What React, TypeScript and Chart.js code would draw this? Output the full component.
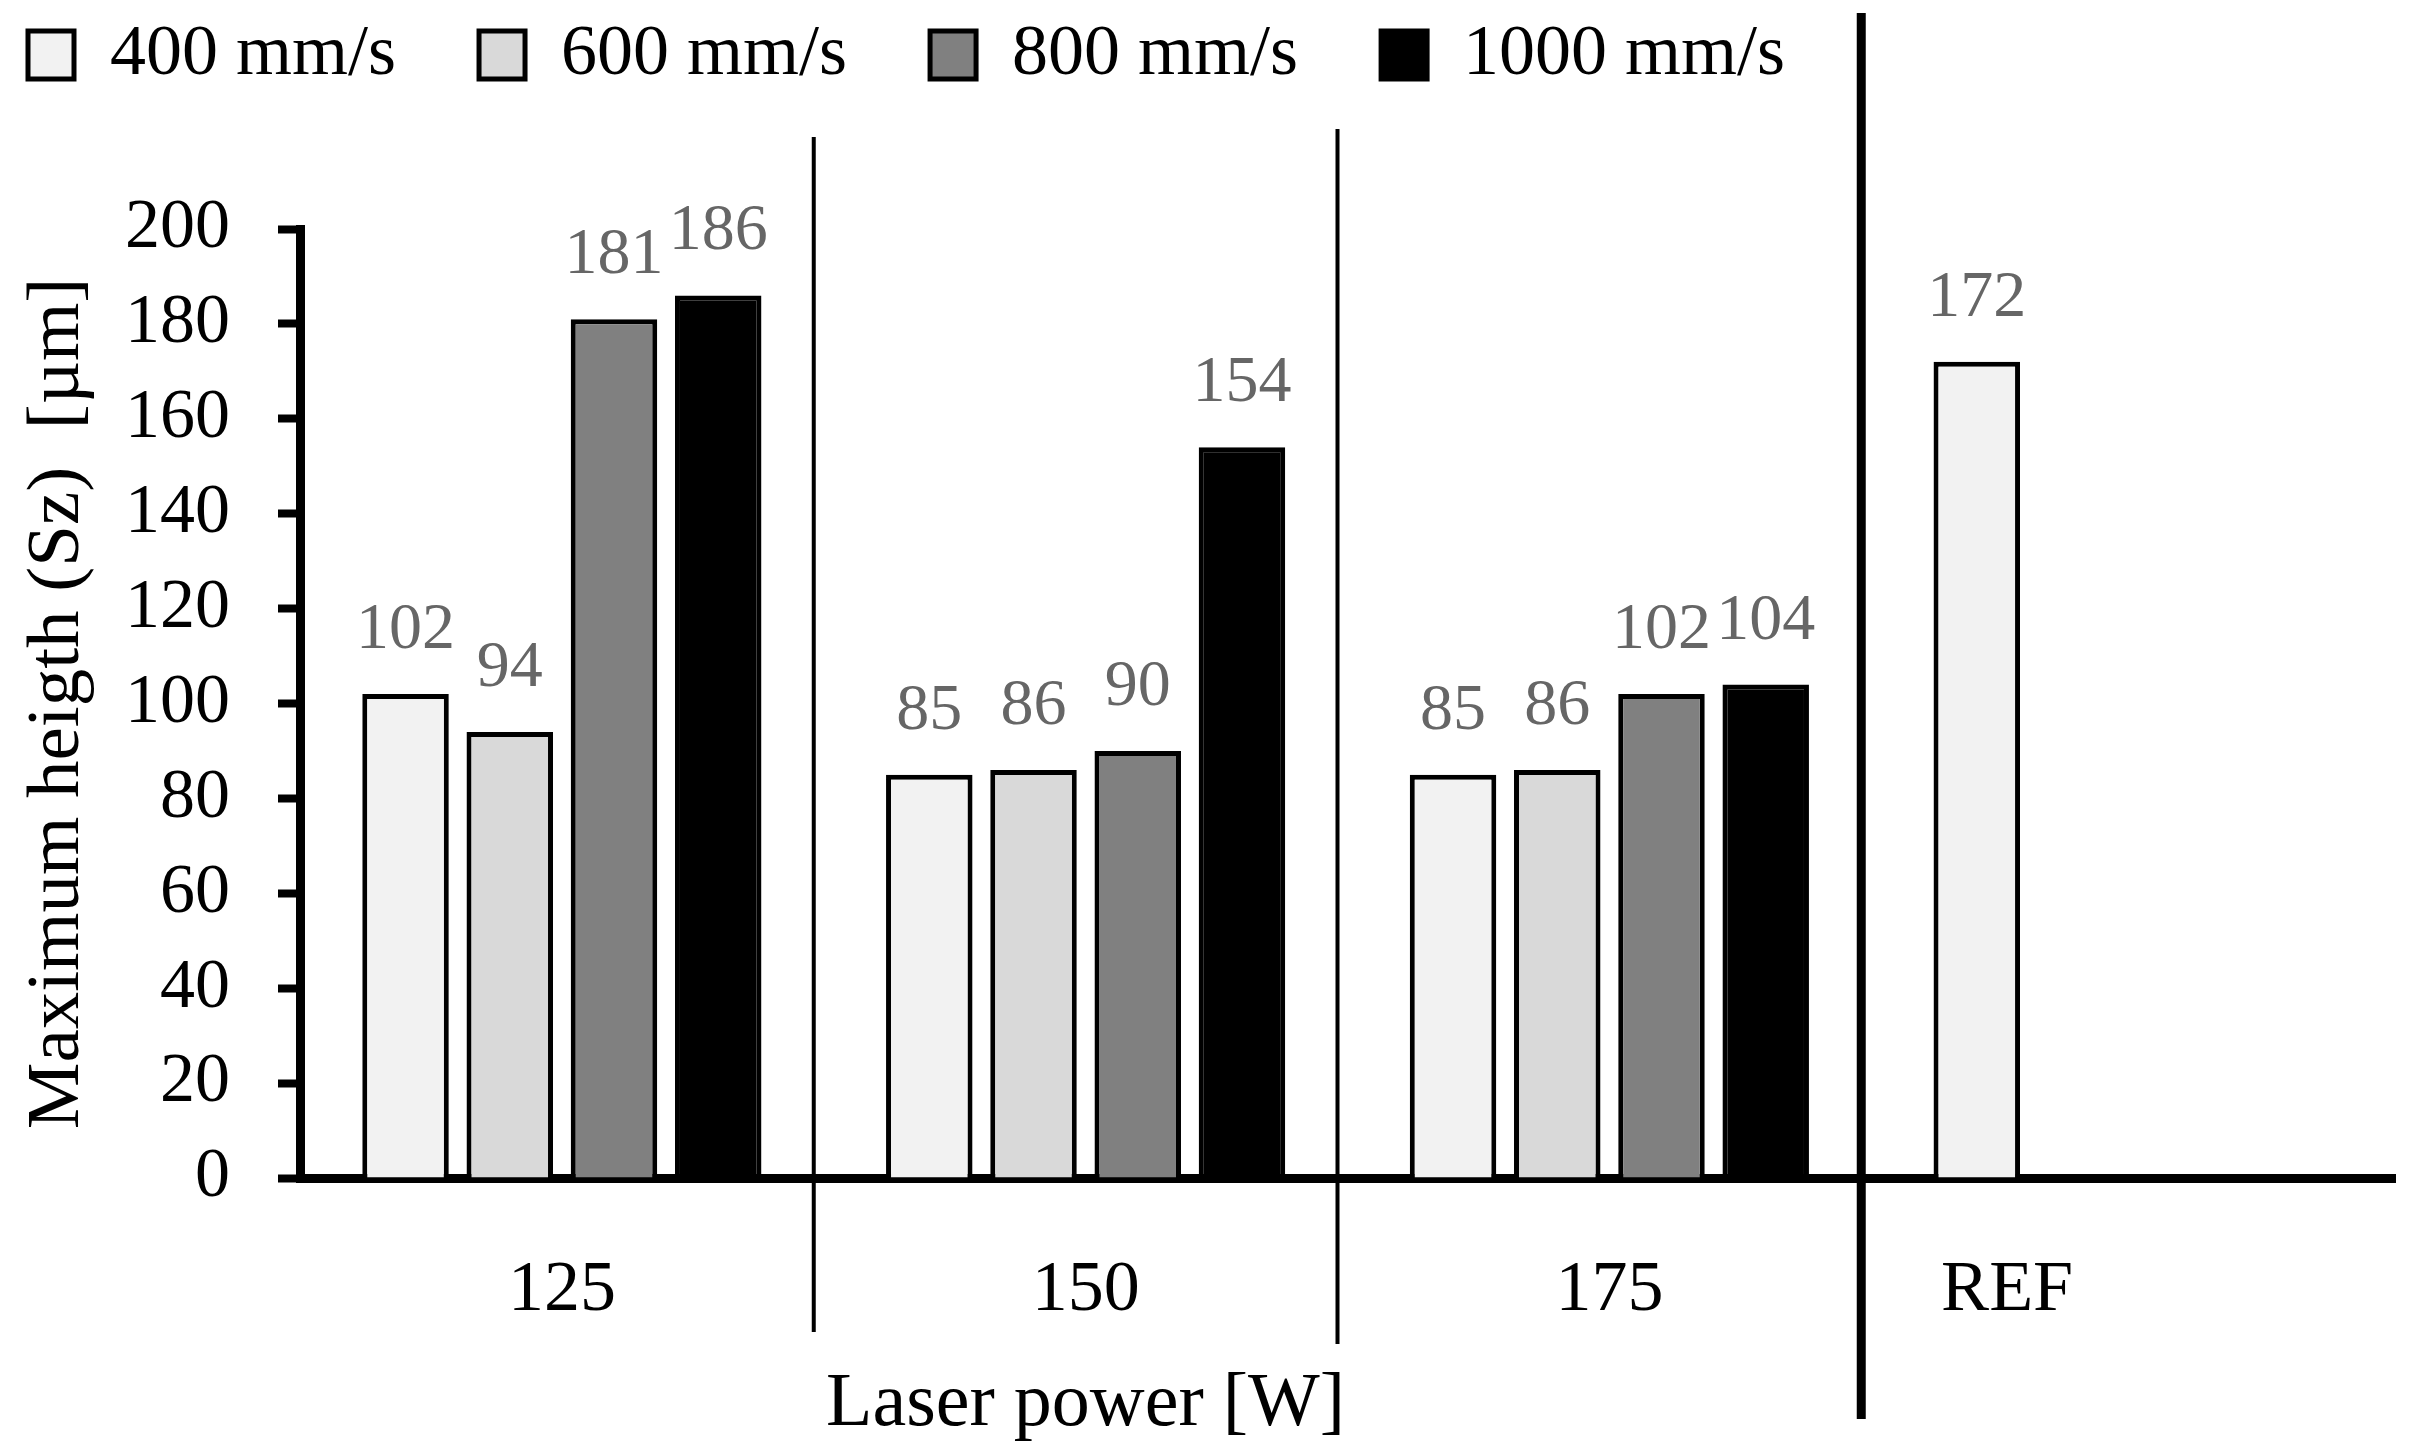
import React, { useEffect, useRef } from 'react';
import { Chart, registerables } from 'chart.js';

Chart.register(...registerables);

// ---- data ----
const categories = ['125', '150', '175', 'REF'];
const seriesNames = ['400 mm/s', '600 mm/s', '800 mm/s', '1000 mm/s'];
const s400 = [102, 85, 85, 172];
const s600 = [94, 86, 86, null];
const s800 = [181, 90, 102, null];
const s1000 = [186, 154, 104, null];
const seriesColors = ['#f2f2f2', '#d9d9d9', '#808080', '#000000'];
const yMin = 0;
const yMax = 200;
const yStep = 20;
const xTitle = 'Laser power [W]';
const yTitle = 'Maximum heigth (Sz)  [µm]';

const FONT = "'Liberation Serif', 'Times New Roman', serif";

const valueLabelPlugin = {
  id: 'valueLabels',
  afterDatasetsDraw(chart: any) {
    const ctx = chart.ctx;
    ctx.save();
    ctx.font = `66px ${FONT}`;
    ctx.fillStyle = '#666666';
    ctx.textAlign = 'center';
    ctx.textBaseline = 'alphabetic';
    chart.data.datasets.forEach((ds: any, i: number) => {
      const meta = chart.getDatasetMeta(i);
      meta.data.forEach((bar: any, j: number) => {
        const v = ds.data[j];
        if (v === null || v === undefined) return;
        ctx.fillText(String(v), bar.x, bar.y - 46);
      });
    });
    ctx.restore();
  },
};

const separatorPlugin = {
  id: 'separators',
  afterDraw(chart: any) {
    const xs = chart.scales.x;
    const ctx = chart.ctx;
    const specs = [
      { top: 137, bottom: 1332, width: 4 },
      { top: 129, bottom: 1344, width: 4 },
      { top: 13, bottom: 1419, width: 9 },
    ];
    specs.forEach((s, k) => {
      const px = (xs.getPixelForValue(k) + xs.getPixelForValue(k + 1)) / 2 - 10;
      ctx.save();
      ctx.strokeStyle = '#000000';
      ctx.lineWidth = s.width;
      ctx.beginPath();
      ctx.moveTo(px, s.top);
      ctx.lineTo(px, s.bottom);
      ctx.stroke();
      ctx.restore();
    });
  },
};

const xTitlePlugin = {
  id: 'xTitle',
  afterDraw(chart: any) {
    const xs = chart.scales.x;
    const ctx = chart.ctx;
    const n = categories.length;
    const lastBoundary = (xs.getPixelForValue(n - 2) + xs.getPixelForValue(n - 1)) / 2;
    const cx = (xs.left + lastBoundary) / 2;
    ctx.save();
    ctx.font = `76px ${FONT}`;
    ctx.fillStyle = '#000000';
    ctx.textAlign = 'center';
    ctx.textBaseline = 'alphabetic';
    ctx.fillText(xTitle, cx, 1425);
    ctx.restore();
  },
};

export default function App() {
  const ref = useRef<HTMLCanvasElement | null>(null);

  useEffect(() => {
    if (!ref.current) return;
    const seriesData = [s400, s600, s800, s1000];
    const chart = new Chart(ref.current, {
      type: 'bar',
      data: {
        labels: categories,
        datasets: seriesNames.map((name, i) => ({
          label: name,
          data: seriesData[i],
          backgroundColor: seriesColors[i],
          borderColor: '#000000',
          borderWidth: 5,
          borderSkipped: 'bottom',
          categoryPercentage: 0.796,
          barPercentage: 0.83,
        })),
      },
      options: {
        animation: false,
        responsive: true,
        maintainAspectRatio: false,
        devicePixelRatio: 1,
        layout: { padding: { left: -55, top: -64, right: 25, bottom: 0 } },
        font: { family: FONT },
        plugins: {
          legend: {
            display: true,
            position: 'top',
            align: 'start',
            weight: 3000,
            labels: {
              font: { family: FONT, size: 72 },
              color: '#000000',
              boxWidth: 46,
              boxHeight: 48,
              padding: 83,
            },
          },
          title: {
            display: true,
            text: ' ',
            weight: 100,
            font: { size: 10 },
            padding: { top: 0, bottom: 116 },
          },
          tooltip: { enabled: false },
        },
        scales: {
          x: {
            type: 'category',
            z: 1,
            grid: { display: false },
            border: { display: true, color: '#000000', width: 9 },
            ticks: {
              font: { family: FONT, size: 72 },
              color: '#000000',
              padding: 62,
              maxRotation: 0,
              autoSkip: false,
              callback: (_v: any, i: number) =>
                i === categories.length - 1 ? categories[i] + '\u00a0'.repeat(14) : categories[i],
            },
            afterFit: (scale: any) => {
              scale.height = 1454 - 1178;
            },
          },
          y: {
            min: yMin,
            max: yMax,
            grid: {
              display: true,
              drawOnChartArea: false,
              drawTicks: true,
              tickLength: 22,
              tickWidth: 8,
              tickColor: '#000000',
            },
            border: { display: true, color: '#000000', width: 9 },
            ticks: {
              stepSize: yStep,
              font: { family: FONT, size: 70 },
              color: '#000000',
              padding: 48,
            },
            title: {
              display: true,
              text: yTitle,
              color: '#000000',
              font: { family: FONT, size: 75 },
              padding: { top: 68, bottom: 0 },
            },
            afterFit: (scale: any) => {
              scale.width = 300 + 55;
            },
          },
        },
      },
      plugins: [valueLabelPlugin, separatorPlugin, xTitlePlugin],
    } as any);
    return () => chart.destroy();
  }, []);

  return (
    <div style={{ position: 'absolute', left: 0, top: 0, width: 2420, height: 1454, background: '#ffffff' }}>
      <canvas ref={ref} />
    </div>
  );
}
